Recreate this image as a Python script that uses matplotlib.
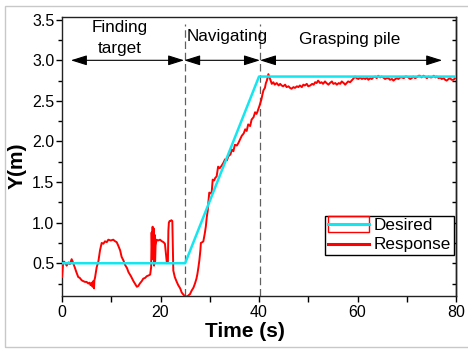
import matplotlib
matplotlib.use("Agg")
import matplotlib.pyplot as plt
from matplotlib.ticker import MultipleLocator
from matplotlib.patches import Rectangle
from matplotlib.lines import Line2D
from matplotlib.legend_handler import HandlerBase

plt.rcParams['font.family'] = ['Liberation Sans', 'DejaVu Sans']

# ---------------- data ----------------
desired_t = [0, 25, 40, 80]
desired_y = [0.5, 0.5, 2.8, 2.8]

resp_t = [
    0, 0.2, 0.4, 0.7, 0.95, 1.3, 1.6, 1.96, 2.3, 2.64, 2.98, 3.3, 3.6, 4.0, 4.3, 4.67,
    5.0, 5.35, 5.6, 5.8, 6.03, 6.2, 6.35, 6.5, 6.57, 6.7, 7.04, 7.38, 7.72, 8.06, 8.4,
    8.73, 9.1, 9.4, 9.9, 10.4, 10.8, 11.1, 11.4, 11.8, 12.1, 12.5, 12.8, 13.2, 13.5,
    14.0, 14.5, 14.9, 15.2, 15.5, 15.8, 16.2, 16.5, 16.9, 17.2, 17.6, 17.9, 18.1, 18.2,
    18.3, 18.4, 18.5, 18.6, 18.7, 18.8, 18.9, 19.0, 19.2, 19.5, 19.9, 20.3, 20.6, 20.9,
    21.1, 21.3, 21.5, 21.6, 21.7, 21.85, 22.0, 22.2, 22.4, 22.5, 22.6, 22.9, 23.3, 23.6,
    24.0, 24.3, 24.7, 25.0,
    25.3, 25.6, 26.0, 26.3, 26.7, 27.0, 27.3, 27.5, 27.7, 27.9, 28.1, 28.2, 28.5, 28.7,
    29.0, 29.2, 29.4, 29.6, 29.7, 29.9, 30.2, 30.4, 30.6, 30.9, 31.1, 31.4, 31.7, 32.0,
    32.4, 32.8, 33.1, 33.5, 33.8, 34.2, 34.5, 34.8, 35.1, 35.5, 35.8, 36.2, 36.5, 36.9,
    37.2, 37.5, 37.8, 38.2, 38.5, 38.9, 39.2, 39.5, 39.7, 40.1, 40.3, 40.5, 40.7, 40.9,
    41.2, 41.4, 41.6, 41.9,
    42.2, 42.6, 42.9, 43.2, 43.6, 44.0, 44.3, 44.6, 44.9, 45.3, 45.6, 46.0, 46.3, 46.6,
    47.0, 47.3, 47.7, 48.0, 48.3, 48.7, 49.0, 49.3, 49.7, 50.0, 50.4, 50.8, 51.1, 51.4,
    51.7, 52.0, 52.4, 52.7, 53.0, 53.4, 53.7, 54.1, 54.4, 54.8, 55.1, 55.5, 55.8, 56.2,
    56.5, 56.8, 57.2, 57.5, 57.8, 58.1, 58.5, 58.8, 59.1, 59.5, 59.8, 60.2, 60.5, 60.9,
    61.2, 61.6, 61.9, 62.2, 62.6, 62.9, 63.2, 63.6, 63.9, 64.2, 64.6, 64.9, 65.2, 65.6,
    65.9, 66.3, 66.6, 67.0, 67.3, 67.7, 68.0, 68.3, 68.7, 69.0, 69.4, 69.7, 70.0, 70.3,
    70.7, 71.0, 71.3, 71.7, 72.0, 72.4, 72.7, 73.0, 73.4, 73.7, 74.1, 74.4, 74.8, 75.1,
    75.5, 75.8, 76.1, 76.5, 76.8, 77.1, 77.5, 77.8, 78.1, 78.5, 78.8, 79.1, 79.5, 79.8,
    80.0,
]
resp_y = [
    0.33, 0.48, 0.52, 0.50, 0.47, 0.51, 0.49, 0.55, 0.50, 0.44, 0.38, 0.33, 0.32, 0.29, 0.28, 0.27,
    0.27, 0.25, 0.26, 0.23, 0.26, 0.21, 0.28, 0.19, 0.29, 0.32, 0.45, 0.52, 0.66, 0.75, 0.74,
    0.77, 0.76, 0.79, 0.78, 0.79, 0.77, 0.76, 0.72, 0.66, 0.58, 0.53, 0.48, 0.44, 0.39,
    0.34, 0.28, 0.24, 0.21, 0.22, 0.25, 0.28, 0.31, 0.32, 0.34, 0.35, 0.36, 0.45, 0.88,
    0.62, 0.95, 0.55, 0.93, 0.47, 0.85, 0.50, 0.72, 0.79, 0.78, 0.79, 0.77, 0.76, 0.74,
    0.62, 0.50, 0.52, 0.90, 1.00, 1.02, 1.02, 1.03, 1.02, 0.70, 0.41, 0.33, 0.27, 0.23,
    0.19, 0.14, 0.11, 0.09,
    0.09, 0.10, 0.12, 0.16, 0.20, 0.25, 0.31, 0.37, 0.45, 0.54, 0.66, 0.75, 0.76, 0.77,
    0.87, 0.95, 1.07, 1.15, 1.24, 1.37, 1.36, 1.38, 1.53, 1.52, 1.55, 1.57, 1.69, 1.67,
    1.70, 1.74, 1.78, 1.77, 1.82, 1.84, 1.90, 1.88, 1.96, 1.95, 1.98, 2.03, 2.07, 2.10,
    2.15, 2.13, 2.21, 2.19, 2.27, 2.30, 2.36, 2.34, 2.37, 2.44, 2.48, 2.52, 2.58, 2.63,
    2.66, 2.72, 2.75, 2.83,
    2.78, 2.71, 2.73, 2.70, 2.72, 2.69, 2.71, 2.69, 2.68, 2.70, 2.67, 2.68, 2.66, 2.65,
    2.67, 2.66, 2.68, 2.67, 2.69, 2.67, 2.70, 2.69, 2.71, 2.68, 2.69, 2.71, 2.70, 2.73,
    2.72, 2.75, 2.72, 2.73, 2.71, 2.74, 2.72, 2.70, 2.72, 2.74, 2.71, 2.72, 2.70, 2.72,
    2.71, 2.74, 2.72, 2.70, 2.72, 2.74, 2.73, 2.75, 2.77, 2.80, 2.78, 2.77, 2.79, 2.77,
    2.78, 2.77, 2.79, 2.76, 2.78, 2.77, 2.79, 2.80, 2.78, 2.81, 2.79, 2.80, 2.79, 2.77,
    2.78, 2.78, 2.76, 2.77, 2.75, 2.77, 2.78, 2.77, 2.79, 2.79, 2.78, 2.80, 2.80, 2.79,
    2.77, 2.78, 2.80, 2.78, 2.79, 2.81, 2.81, 2.79, 2.81, 2.80, 2.78, 2.80, 2.79, 2.79,
    2.81, 2.79, 2.80, 2.78, 2.79, 2.77, 2.78, 2.76, 2.75, 2.77, 2.78, 2.76, 2.76, 2.78,
    2.79,
]

phase_bounds = [25, 40.2]
phase_arrows = [(1.8, 24.8), (24.8, 40.2), (40.2, 77.2)]
arrow_y = 3.0

CYAN = '#14e6f0'
RED = '#ff0000'


class RectLineHandler(HandlerBase):
    def create_artists(self, legend, orig_handle, xdescent, ydescent,
                       width, height, fontsize, trans):
        cy = height / 2 - ydescent
        r = Rectangle((-xdescent, cy - 0.68 * height), width, 1.36 * height,
                      fill=False, edgecolor=RED, lw=1.0, transform=trans)
        ln = Line2D([-xdescent, -xdescent + width], [cy, cy], color=CYAN,
                    lw=2.2, transform=trans)
        return [r, ln]


fig = plt.figure(figsize=(4.68, 3.49), dpi=100)
ax = fig.add_axes([62 / 468, 1 - 295.7 / 349, 394 / 468, (295.7 - 17.3) / 349])

ax.plot(resp_t, resp_y, color=RED, lw=1.4, zorder=3, label='Response')
ax.plot(desired_t, desired_y, color=CYAN, lw=1.8, zorder=4, label='Desired')

for b in phase_bounds:
    ax.plot([b, b], [0.1, 3.45], color='#606060', lw=0.9,
            linestyle=(0, (6, 3)), zorder=2)

for (a0, a1) in phase_arrows:
    ax.annotate('', xy=(a0, arrow_y), xytext=(a1, arrow_y),
                arrowprops=dict(arrowstyle='<|-|>,head_length=0.7,head_width=0.22',
                                color='black', lw=0.8, mutation_scale=14,
                                shrinkA=0, shrinkB=0), zorder=5)

tfs = 12.3
ax.text(11.8, 3.35, 'Finding', ha='center', va='baseline', fontsize=tfs)
ax.text(11.8, 3.09, 'target', ha='center', va='baseline', fontsize=tfs)
ax.text(33.5, 3.24, 'Navigating', ha='center', va='baseline', fontsize=tfs)
ax.text(58.5, 3.20, 'Grasping pile', ha='center', va='baseline', fontsize=tfs)

ax.set_xlim(0, 80)
ax.set_ylim(0.1, 3.53)
ax.xaxis.set_major_locator(MultipleLocator(20))
ax.xaxis.set_minor_locator(MultipleLocator(10))
ax.yaxis.set_major_locator(MultipleLocator(0.5))
ax.yaxis.set_minor_locator(MultipleLocator(0.25))
ax.set_yticks([0.5, 1.0, 1.5, 2.0, 2.5, 3.0, 3.5])
ax.set_yticklabels(['0.5', '1.0', '1.5', '2.0', '2.5', '3.0', '3.5'])

ax.tick_params(axis='both', which='both', direction='out', right=False, top=False,
               labelsize=11.5, width=1, colors='black')
ax.tick_params(axis='y', which='major', length=4, pad=1.5)
ax.tick_params(axis='y', which='minor', length=3)
ax.tick_params(axis='x', which='both', length=4, pad=2.5)

for sp in ax.spines.values():
    sp.set_linewidth(1.0)
    sp.set_color('#222222')

sec = ax.secondary_yaxis('right')
sec.yaxis.set_major_locator(MultipleLocator(0.25))
sec.tick_params(direction='in', length=3, labelright=False, width=1)
sec.spines['right'].set_linewidth(1.0)

fig.text(244.5 / 468, (349 - 337) / 349, 'Time (s)', ha='center', va='baseline',
         fontsize=15, fontweight='bold')
fig.text(17 / 468, 1 - 166 / 349, 'Y(m)', ha='center', va='center', rotation=90,
         fontsize=15, fontweight='bold')

dummy = Line2D([], [])
red_line = Line2D([], [], color=RED, lw=2.2)
leg = ax.legend([dummy, red_line], ['Desired', 'Response'],
                handler_map={dummy: RectLineHandler()},
                loc='lower right', bbox_to_anchor=(0.995, 0.146),
                fontsize=12.3, frameon=True, fancybox=False, framealpha=1,
                edgecolor='black', borderpad=0.15, labelspacing=0.25,
                handlelength=2.4, handletextpad=0.3, borderaxespad=0)
leg.get_frame().set_linewidth(1.0)
leg.set_zorder(10)

fig.patches.append(Rectangle((5 / 468, 2 / 349), 1.2, (347 - 6) / 349,
                             transform=fig.transFigure, fill=False,
                             edgecolor='#c8c8c8', lw=1.0))

fig.savefig('out.png', dpi=100)
